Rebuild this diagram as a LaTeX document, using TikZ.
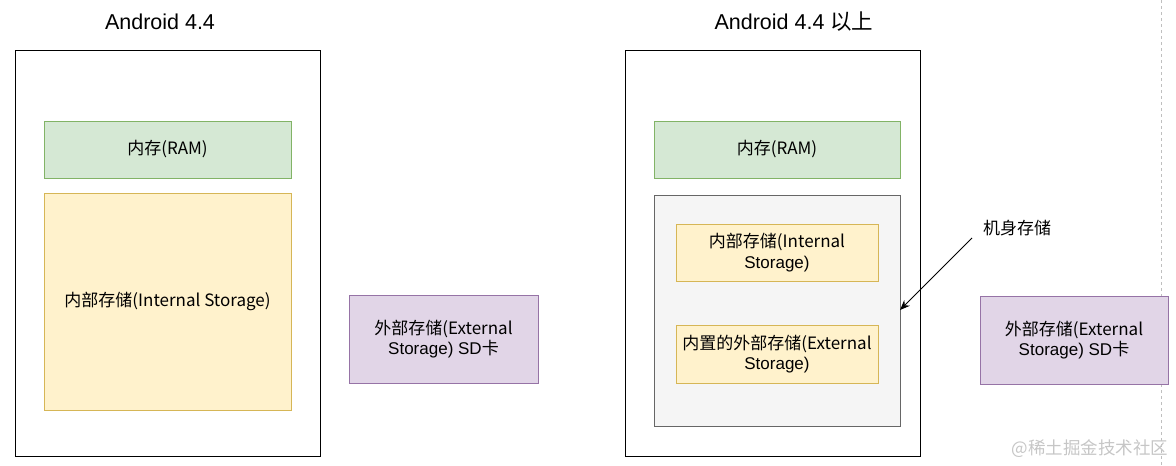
\documentclass[tikz,border=0pt]{standalone}
\usepackage{fontspec}
\setmainfont{Liberation Sans}
\newfontfamily\cjk{Noto Sans CJK SC}
\usetikzlibrary{arrows.meta}
\definecolor{gfill}{HTML}{D5E8D4}\definecolor{gline}{HTML}{82B366}
\definecolor{yfill}{HTML}{FFF2CC}\definecolor{yline}{HTML}{D6B656}
\definecolor{pfill}{HTML}{E1D5E7}\definecolor{pline}{HTML}{9673A6}
\definecolor{sfill}{HTML}{F5F5F5}\definecolor{sline}{HTML}{666666}
\tikzset{
  box/.style={draw, line width=0.9pt, inner sep=0pt, outer sep=0pt, font=\fontsize{17}{20.5}\selectfont, align=center},
  green/.style={box, fill=gfill, draw=gline},
  yellow/.style={box, fill=yfill, draw=yline},
  purple/.style={box, fill=pfill, draw=pline},
  shell/.style={draw=black, line width=1pt, fill=white},
  title/.style={font=\fontsize{21.5}{25}\selectfont},
}
\begin{document}
\begin{tikzpicture}[x=1pt,y=-1pt]
\useasboundingbox (0,0) rectangle (1176,466);
\draw[gray!50, dash pattern=on 3pt off 3pt, line width=0.7pt] (1161,0) coordinate (dtop) -- (1161,466) coordinate (dbot);
% left
\node[shell, minimum width=305pt, minimum height=406pt, inner sep=0pt, outer sep=0pt] (lbox) at (167.5,253) {};
\node[title] (ltitle) at (160,22) {Android 4.4};
\node[green, minimum width=247pt, minimum height=57pt] (lram) at (167.5,149.5) {\cjk{内存}(RAM)};
\node[yellow, minimum width=247pt, minimum height=217pt] (lint) at (167.5,301.5) {\cjk{内部存储}(Internal Storage)};
\node[purple, minimum width=189pt, minimum height=88pt] (lext) at (443.5,339) {\cjk{外部存储}(External\\Storage) SD\cjk{卡}};
% right
\node[shell, minimum width=295pt, minimum height=406pt, inner sep=0pt, outer sep=0pt] (rbox) at (772.5,253) {};
\node[title] (rtitle) at (794,22) {Android 4.4 \cjk{以上}};
\node[green, minimum width=246pt, minimum height=57pt] (rram) at (777,149.5) {\cjk{内存}(RAM)};
\node[box, fill=sfill, draw=sline, minimum width=246pt, minimum height=231pt] (body) at (777,310.5) {};
\node[yellow, minimum width=202pt, minimum height=57pt] (rint) at (777,252.5) {\cjk{内部存储}(Internal\\Storage)};
\node[yellow, minimum width=202pt, minimum height=58pt] (rext) at (777,354) {\cjk{内置的外部存储}(External\\Storage)};
\node[purple, minimum width=188pt, minimum height=88pt] (rsd) at (1074,340) {\cjk{外部存储}(External\\Storage) SD\cjk{卡}};
\node[font=\fontsize{17}{20}\selectfont\cjk] (lbl) at (1017,228) {机身存储};
\coordinate (astart) at (972,238);
\draw[-{Stealth[length=10pt,width=8pt]}, line width=0.9pt] (astart) -- (body.east |- 0,310);
\node[font=\fontsize{17.5}{20}\selectfont\cjk, text=gray!45] (wm) at (1090,449) {@稀土掘金技术社区};
\end{tikzpicture}
\end{document}
